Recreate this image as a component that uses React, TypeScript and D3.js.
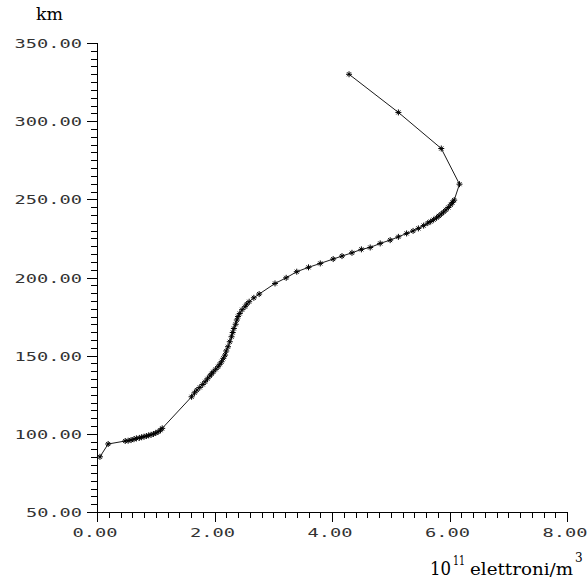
import { useEffect, useRef } from "react"
import * as d3 from "d3"

// electron density profile (10^11 el/m^3) vs altitude (km)
const density = [
  0.05, 0.19, 0.48, 0.53, 0.58, 0.63, 0.67, 0.72, 0.76, 0.80, 0.84, 0.88, 0.92, 0.96, 1.00, 1.04, 1.08, 1.11,
  1.61, 1.66, 1.70, 1.75, 1.80, 1.84, 1.88, 1.92, 1.95, 1.98, 2.02, 2.06, 2.09, 2.12, 2.15, 2.18, 2.20, 2.23,
  2.26, 2.29, 2.31, 2.33, 2.36, 2.38, 2.40, 2.43, 2.47, 2.52, 2.55, 2.59, 2.67, 2.76, 3.03, 3.22, 3.40, 3.60,
  3.80, 4.02, 4.17, 4.34, 4.50, 4.65, 4.82, 4.99, 5.13, 5.27, 5.38, 5.47, 5.56, 5.63, 5.68, 5.73, 5.78, 5.82,
  5.86, 5.90, 5.94, 5.98, 6.02, 6.05, 6.08, 6.17, 5.86, 5.13, 4.29,
]
const altitude = [
  85.3, 93.5, 95.4, 95.6, 96.0, 96.6, 97.1, 97.4, 97.8, 98.2, 98.6, 99.0, 99.4, 99.9, 100.5, 101.3, 102.3, 103.5,
  123.7, 126.2, 128.0, 129.7, 131.6, 133.3, 135.2, 137.0, 138.4, 139.7, 141.3, 142.9, 144.5, 146.1, 148.3, 150.4, 153.0, 155.7,
  158.9, 162.1, 164.8, 167.4, 170.1, 172.8, 175.0, 177.0, 179.4, 181.3, 183.0, 184.5, 187.0, 189.4, 196.2, 199.8, 203.7, 206.5,
  209.0, 211.8, 213.7, 215.8, 218.0, 219.2, 221.8, 223.9, 226.0, 228.2, 229.8, 231.4, 233.2, 234.8, 235.8, 237.0, 238.2, 239.4,
  240.6, 241.9, 243.3, 244.8, 246.5, 248.0, 249.5, 259.7, 282.5, 305.6, 330.0,
]

const xMajor = [0, 2, 4, 6, 8]
const yMajor = [50, 100, 150, 200, 250, 300, 350]

export default function App() {
  const ref = useRef(null)

  useEffect(() => {
    buildGraph()
  }, [])

  function buildGraph({
    width = 587,
    height = 583,
  } = {}) {
    const svg = d3.select(ref.current)
    svg.selectAll("*").remove()
    svg.attr("width", width).attr("height", height)

    const x = d3.scaleLinear().domain([0, 8]).range([97, 567])
    const y = d3.scaleLinear().domain([50, 350]).range([512, 43])

    const xMinor = d3.range(0, 41).map(i => i * 0.2).filter(v => !xMajor.some(m => Math.abs(m - v) < 1e-6))
    const yMinor = d3.range(50, 351, 5).filter(v => v % 50 !== 0)

    const axes = svg.append("g")
      .attr("stroke", "black")
      .attr("stroke-width", 1)
      .attr("shape-rendering", "crispEdges")

    // axis lines
    axes.append("line").attr("x1", x(0)).attr("x2", x(8)).attr("y1", y(50) + 0.5).attr("y2", y(50) + 0.5)
    axes.append("line").attr("x1", x(0) + 0.5).attr("x2", x(0) + 0.5).attr("y1", y(350)).attr("y2", y(50))

    // x ticks
    axes.append("g").selectAll("line")
      .data(xMinor)
      .join("line")
        .attr("x1", d => Math.round(x(d)) + 0.5).attr("x2", d => Math.round(x(d)) + 0.5)
        .attr("y1", y(50)).attr("y2", y(50) + 6)
    axes.append("g").selectAll("line")
      .data(xMajor)
      .join("line")
        .attr("x1", d => Math.round(x(d)) + 0.5).attr("x2", d => Math.round(x(d)) + 0.5)
        .attr("y1", y(50)).attr("y2", y(50) + 10)

    // y ticks
    axes.append("g").selectAll("line")
      .data(yMinor)
      .join("line")
        .attr("y1", d => Math.round(y(d)) + 0.5).attr("y2", d => Math.round(y(d)) + 0.5)
        .attr("x1", x(0) - 6).attr("x2", x(0))
    axes.append("g").selectAll("line")
      .data(yMajor)
      .join("line")
        .attr("y1", d => Math.round(y(d)) + 0.5).attr("y2", d => Math.round(y(d)) + 0.5)
        .attr("x1", x(0) - 10).attr("x2", x(0))

    const mono = "DejaVu Sans Mono, monospace"

    svg.append("g")
        .style("font-family", mono)
        .style("font-size", "13px")
        .attr("fill", "#333")
        .attr("text-anchor", "end")
      .selectAll("text")
      .data(yMajor)
      .join("text")
        .attr("x", 82)
        .attr("y", d => y(d) + 5)
        .attr("textLength", d => d.toFixed(2).length * 11.4 - 1)
        .attr("lengthAdjust", "spacingAndGlyphs")
        .text(d => d.toFixed(2))

    svg.append("g")
        .style("font-family", mono)
        .style("font-size", "13px")
        .attr("fill", "#333")
        .attr("text-anchor", "middle")
      .selectAll("text")
      .data(xMajor)
      .join("text")
        .attr("x", d => x(d) - 2)
        .attr("y", 537)
        .attr("textLength", 45)
        .attr("lengthAdjust", "spacingAndGlyphs")
        .text(d => d.toFixed(2))

    // axis titles
    const serif = "DejaVu Serif, serif"
    svg.append("text")
        .attr("x", 36).attr("y", 20)
        .style("font-family", serif).style("font-size", "16px")
        .attr("textLength", 27).attr("lengthAdjust", "spacingAndGlyphs")
        .text("km")

    const xt = svg.append("g").style("font-family", serif).attr("fill", "black")
    xt.append("text").attr("x", 430).attr("y", 575).style("font-size", "18px")
      .attr("textLength", 21).attr("lengthAdjust", "spacingAndGlyphs").text("10")
    xt.append("text").attr("x", 453).attr("y", 565).style("font-size", "12px")
      .attr("textLength", 12).attr("lengthAdjust", "spacingAndGlyphs").text("11")
    xt.append("text").attr("x", 470).attr("y", 575).style("font-size", "17px")
      .attr("textLength", 103).attr("lengthAdjust", "spacingAndGlyphs").text("elettroni/m")
    xt.append("text").attr("x", 575).attr("y", 562).style("font-size", "12px").text("3")

    const points = density.map((d, i) => [d, altitude[i]])

    const line = d3.line()
      .x(d => x(d[0]))
      .y(d => y(d[1]))

    svg.append("path")
        .datum(points)
        .attr("fill", "none")
        .attr("stroke", "black")
        .attr("stroke-width", 0.9)
        .attr("d", line)

    const s = 3
    svg.append("g")
        .attr("stroke", "black")
        .attr("stroke-width", 1)
      .selectAll("path")
      .data(points)
      .join("path")
        .attr("d", d => {
          const px = x(d[0]), py = y(d[1])
          return `M${px - s},${py}H${px + s}M${px},${py - s}V${py + s}` +
            `M${px - 2},${py - 2}L${px + 2},${py + 2}M${px - 2},${py + 2}L${px + 2},${py - 2}`
        })
  }

  return (<>
    <svg ref={ref} style={{ position: "absolute", left: 0, top: 0, background: "white" }}></svg>
  </>)
}
